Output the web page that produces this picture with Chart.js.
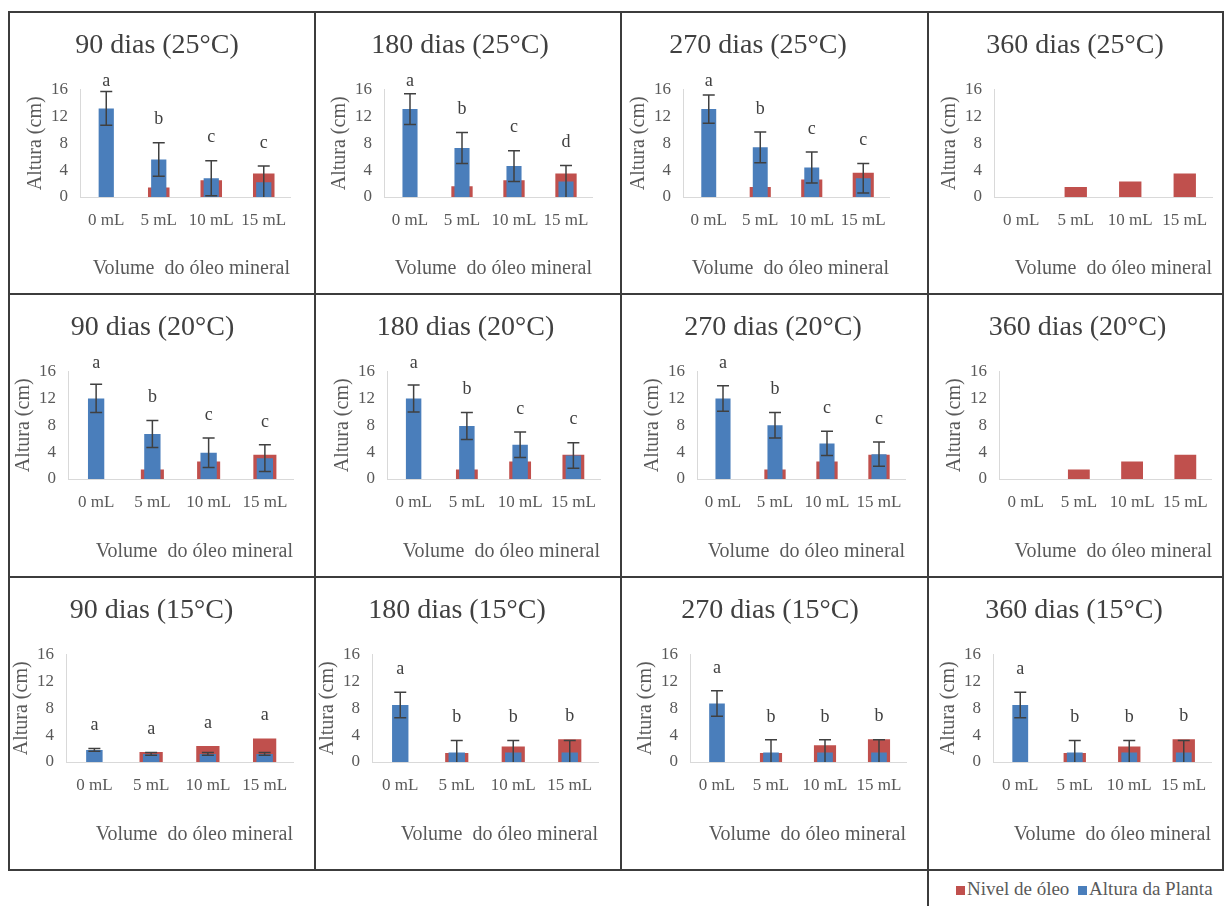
<!DOCTYPE html>
<html>
<head>
  <meta charset="utf-8">
  <title>Altura da planta e nível de óleo</title>
  <script src="https://cdn.jsdelivr.net/npm/chart.js"></script>
  <style>
    html, body {
      margin: 0;
      padding: 0;
      background: #ffffff;
    }
    body {
      position: relative;
      width: 1224px;
      height: 906px;
      overflow: hidden;
      font-family: 'Liberation Serif', 'Times New Roman', serif;
    }
    .cell {
      position: absolute;
      box-sizing: border-box;
      border: 2px solid #3c3c3c;
    }
    canvas {
      position: absolute;
    }
    .legend {
      position: absolute;
      left: 956px;
      top: 879px;
      font-size: 19px;
      line-height: 20px;
      color: #595959;
      white-space: nowrap;
    }
    .legend .box {
      display: inline-block;
      width: 9px;
      height: 9px;
      margin-right: 2px;
    }
  </style>
</head>
<body>

<div class="legend"><span class="box" style="background:#C0504D"></span>Nivel de óleo <span class="box" style="background:#4A7EBB; margin-left:4px"></span>Altura da Planta</div>

<script>
  const categorias = ['0 mL', '5 mL', '10 mL', '15 mL'];
  const dias = [90, 180, 270, 360];
  const temperaturas = ['25°C', '20°C', '15°C'];

  // uma linha por periodo: 90, 180, 270, 360 dias
  const altura25 = [[13.2, 5.6, 2.8, 2.2], [13.1, 7.3, 4.6, 2.3], [13.1, 7.4, 4.4, 2.8], [0, 0, 0, 0]];
  const erro25   = [[2.5, 2.5, 2.6, 2.4], [2.3, 2.3, 2.3, 2.4], [2.1, 2.3, 2.3, 2.2], [0, 0, 0, 0]];
  const oleo25   = [[0, 1.4, 2.5, 3.5], [0, 1.6, 2.5, 3.5], [0, 1.5, 2.6, 3.6], [0, 1.5, 2.3, 3.5]];
  const letras25 = [['a', 'b', 'c', 'c'], ['a', 'b', 'c', 'd'], ['a', 'b', 'c', 'c'], ['', '', '', '']];

  const altura20 = [[12.0, 6.7, 3.9, 3.1], [12.0, 7.9, 5.1, 3.5], [12.0, 8.0, 5.3, 3.7], [0, 0, 0, 0]];
  const erro20   = [[2.1, 2.0, 2.2, 2.0], [2.0, 2.0, 1.9, 1.9], [1.9, 1.9, 1.8, 1.8], [0, 0, 0, 0]];
  const oleo20   = [[0, 1.4, 2.6, 3.6], [0, 1.4, 2.6, 3.6], [0, 1.4, 2.6, 3.6], [0, 1.4, 2.6, 3.6]];
  const letras20 = [['a', 'b', 'c', 'c'], ['a', 'b', 'c', 'c'], ['a', 'b', 'c', 'c'], ['', '', '', '']];

  const altura15 = [[1.8, 1.2, 1.2, 1.2], [8.5, 1.4, 1.4, 1.4], [8.7, 1.4, 1.4, 1.4], [8.5, 1.4, 1.4, 1.4]];
  const erro15   = [[0.2, 0.2, 0.2, 0.2], [1.9, 1.8, 1.8, 1.8], [1.9, 1.9, 1.9, 1.9], [1.9, 1.8, 1.8, 1.8]];
  const oleo15   = [[0, 1.5, 2.4, 3.5], [0, 1.35, 2.3, 3.4], [0, 1.35, 2.5, 3.4], [0, 1.35, 2.3, 3.4]];
  const letras15 = [['a', 'a', 'a', 'a'], ['a', 'b', 'b', 'b'], ['a', 'b', 'b', 'b'], ['a', 'b', 'b', 'b']];

  const linhas = [
    { altura: altura25, erro: erro25, oleo: oleo25, letras: letras25 },
    { altura: altura20, erro: erro20, oleo: oleo20, letras: letras20 },
    { altura: altura15, erro: erro15, oleo: oleo15, letras: letras15 }
  ];

  // grade da figura e area de plotagem de cada painel (px)
  const gx = [9, 315, 621, 928, 1223];
  const gy = [12, 294, 577, 870];
  const plotLeft  = [[70, 68, 61, 65], [58, 71, 75, 70], [53, 53, 68, 64]];
  const plotRight = [[280, 276, 267, 283], [283, 284, 283, 283], [283, 282, 284, 282]];

  const AZUL = '#4A7EBB';
  const VERMELHO = '#C0504D';
  const CINZA = '#595959';

  Chart.defaults.font.family = "'Liberation Serif', 'Times New Roman', serif";
  Chart.defaults.color = CINZA;

  // barras de erro e letras de significancia
  const barExtras = {
    id: 'barExtras',
    afterDatasetsDraw(chart, args, opts) {
      const ctx = chart.ctx;
      const y = chart.scales.y;
      const meta = chart.getDatasetMeta(0);
      const alt = chart.data.datasets[0].data;
      const ol = chart.data.datasets[1].data;
      ctx.save();
      ctx.strokeStyle = '#404040';
      ctx.lineWidth = 1.5;
      ctx.fillStyle = '#404040';
      ctx.font = "18px 'Liberation Serif', 'Times New Roman', serif";
      ctx.textAlign = 'center';
      ctx.textBaseline = 'middle';
      alt.forEach((v, i) => {
        const e = opts.erro[i];
        const x = meta.data[i].x;
        let topo = Math.min(y.getPixelForValue(v), y.getPixelForValue(ol[i]));
        if (e > 0) {
          const y1 = y.getPixelForValue(v + e);
          const y2 = y.getPixelForValue(Math.max(0, v - e));
          ctx.beginPath();
          ctx.moveTo(x, y1);
          ctx.lineTo(x, y2);
          ctx.moveTo(x - 6, y1);
          ctx.lineTo(x + 6, y1);
          if (v - e > 0) {
            ctx.moveTo(x - 6, y2);
            ctx.lineTo(x + 6, y2);
          }
          ctx.stroke();
          topo = Math.min(topo, y1);
        }
        if (opts.letras[i]) {
          ctx.fillText(opts.letras[i], x, Math.max(chart.chartArea.top - 8, topo - 23));
        }
      });
      ctx.restore();
    }
  };

  function addBox(left, top, width, height) {
    const d = document.createElement('div');
    d.className = 'cell';
    d.style.left = left + 'px';
    d.style.top = top + 'px';
    d.style.width = width + 'px';
    d.style.height = height + 'px';
    document.body.appendChild(d);
  }

  function painel(r, c) {
    const dados = linhas[r];
    const x0 = gx[c], x1 = gx[c + 1], y0 = gy[r], y1 = gy[r + 1];
    addBox(x0 - 1, y0 - 1, x1 - x0 + 2, y1 - y0 + 2);

    const canvas = document.createElement('canvas');
    const W = x1 - x0 - 2, H = y1 - y0 - 2;
    canvas.width = W;
    canvas.height = H;
    canvas.style.left = (x0 + 1) + 'px';
    canvas.style.top = (y0 + 1) + 'px';
    document.body.appendChild(canvas);

    const extraBottom = r === 2 ? 10 : 0;
    const yW = 56;
    const xH = H - extraBottom - 184;

    new Chart(canvas, {
      type: 'bar',
      data: {
        labels: categorias,
        datasets: [
          {
            label: 'Altura da Planta',
            data: dados.altura[c],
            backgroundColor: AZUL,
            grouped: false,
            categoryPercentage: 1,
            barPercentage: 0.29,
            order: 0
          },
          {
            label: 'Nivel de óleo',
            data: dados.oleo[c],
            backgroundColor: VERMELHO,
            grouped: false,
            categoryPercentage: 1,
            barPercentage: 0.41,
            order: 1
          }
        ]
      },
      options: {
        responsive: false,
        animation: false,
        layout: {
          padding: {
            left: Math.max(0, plotLeft[r][c] - yW),
            right: W - plotRight[r][c],
            top: 0,
            bottom: extraBottom
          }
        },
        plugins: {
          legend: { display: false },
          tooltip: { enabled: false },
          title: {
            display: true,
            text: `${dias[c]} dias (${temperaturas[r]})`,
            font: { size: 28, weight: 'normal' },
            color: '#404040',
            padding: { top: 16, bottom: 27 }
          },
          barExtras: { erro: dados.erro[c], letras: dados.letras[c] }
        },
        scales: {
          x: {
            grid: { display: false, drawTicks: false },
            border: { display: true, color: '#d9d9d9' },
            ticks: { font: { size: 17 }, color: CINZA, padding: 13, maxRotation: 0, autoSkip: false },
            title: {
              display: true,
              text: 'Volume  do óleo mineral',
              align: 'end',
              font: { size: 20 },
              color: CINZA,
              padding: { top: 0, bottom: 12 }
            },
            afterFit: s => { s.height = xH; }
          },
          y: {
            min: 0,
            max: 16,
            grid: { display: false, drawTicks: false },
            border: { display: true, color: '#d9d9d9' },
            ticks: { stepSize: 4, font: { size: 17 }, color: CINZA, padding: 12 },
            title: {
              display: true,
              text: 'Altura (cm)',
              font: { size: 20 },
              color: CINZA,
              padding: { top: 0, bottom: 0 }
            },
            afterFit: s => { s.width = yW; }
          }
        }
      },
      plugins: [barExtras]
    });
  }

  for (let r = 0; r < 3; r++) {
    for (let c = 0; c < 4; c++) {
      painel(r, c);
    }
  }

  // celula da legenda
  addBox(927, 869, 300, 60);
</script>

</body>
</html>
